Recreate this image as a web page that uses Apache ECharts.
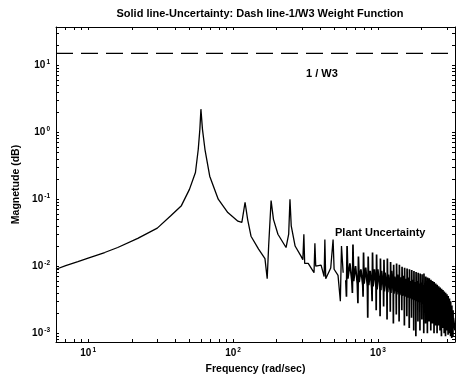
<!DOCTYPE html>
<html>
<head>
<meta charset="utf-8">
<script src="https://cdn.jsdelivr.net/npm/echarts@6/dist/echarts.min.js"></script>
<style>
  html, body { margin: 0; padding: 0; background: #fff; }
  #chart { width: 459px; height: 380px; }
</style>
</head>
<body>
<div id="chart"></div>
<script>
// axis limits (rad/sec and magnitude), log scale
const freqRange = [6, 3400];
const magRange = [0.00074, 37];
const xDecades = [1, 2, 3];
const yDecades = [-3, -2, -1, 0, 1];

// 1/W3 weight (dashed)
const w3Freq = [6, 3400];
const w3Mag = [15, 15];

// plant uncertainty: [frequency, magnitude]
// main resonance region
const lowBand = [
  [6, 0.009], [7, 0.0102], [8.5, 0.0117], [10, 0.0132], [13, 0.016], [16, 0.019],
  [22, 0.026], [30, 0.037], [37, 0.056], [44, 0.08], [50, 0.14], [55, 0.25],
  [57.5, 0.55], [59, 1.1], [60, 2.2], [61.5, 1.1], [64, 0.55], [69, 0.22],
  [79, 0.1], [92, 0.063], [108, 0.047], [115, 0.045], [121, 0.09], [126, 0.05],
  [133, 0.028], [150, 0.018], [166, 0.013], [172, 0.0065], [176, 0.02], [183, 0.095],
  [190, 0.05], [204, 0.03], [232, 0.019], [242, 0.03], [247, 0.1], [252, 0.04],
  [268, 0.02], [295, 0.014], [303, 0.0125], [308, 0.03], [312, 0.011], [330, 0.011],
  [362, 0.008], [367, 0.022], [372, 0.01], [405, 0.0104], [425, 0.007], [430, 0.025],
  [436, 0.0065], [472, 0.0094], [490, 0.025], [498, 0.009], [530, 0.0073], [550, 0.003],
  [560, 0.02], [575, 0.008]
];
// harmonic peaks, 600 - 960 rad/sec
const midBand = [
  [600, 0.0062], [606, 0.0035], [612, 0.02], [620, 0.0065], [640, 0.011],
  [660, 0.006], [666, 0.004], [672, 0.021], [680, 0.006], [700, 0.01],
  [720, 0.0055], [727, 0.0028], [733, 0.014], [742, 0.0058], [762, 0.009],
  [785, 0.0052], [789, 0.0035], [795, 0.016], [803, 0.0055], [823, 0.0095],
  [845, 0.005], [850, 0.0017], [856, 0.014], [864, 0.0052], [884, 0.0085],
  [905, 0.0048], [911, 0.003], [917, 0.016], [925, 0.005], [945, 0.009]
];
// harmonic peaks, 960 - 3400 rad/sec
const highBand = [
  [969, 0.0048], [972, 0.0022], [978, 0.015], [986, 0.0045], [998, 0.009],
  [1031, 0.0046], [1034, 0.0018], [1040, 0.013], [1048, 0.0044], [1060, 0.0085],
  [1091, 0.0044], [1094, 0.0025], [1100, 0.0125], [1108, 0.0042], [1120, 0.008],
  [1152, 0.0043], [1155, 0.0016], [1161, 0.013], [1169, 0.0041], [1181, 0.0075],
  [1213, 0.0042], [1216, 0.0021], [1222, 0.0115], [1230, 0.004], [1242, 0.0085],
  [1274, 0.004], [1277, 0.0014], [1283, 0.0105], [1291, 0.0039], [1303, 0.007],
  [1335, 0.0039], [1338, 0.0019], [1344, 0.011], [1352, 0.0038], [1364, 0.0075],
  [1396, 0.0038], [1399, 0.0015], [1405, 0.0105], [1413, 0.0037], [1425, 0.0068],
  [1457, 0.0037], [1460, 0.0022], [1466, 0.0098], [1474, 0.0036], [1486, 0.0072],
  [1518, 0.0036], [1521, 0.0013], [1527, 0.0095], [1535, 0.0035], [1547, 0.0065],
  [1579, 0.0035], [1582, 0.0018], [1588, 0.0092], [1596, 0.0034], [1608, 0.0068],
  [1640, 0.0034], [1643, 0.0012], [1649, 0.009], [1657, 0.0033], [1669, 0.006],
  [1701, 0.0033], [1704, 0.0017], [1710, 0.0088], [1718, 0.0032], [1730, 0.0063],
  [1762, 0.0032], [1765, 0.0011], [1771, 0.0085], [1779, 0.0031], [1791, 0.0058],
  [1823, 0.0031], [1826, 0.0009], [1832, 0.0082], [1840, 0.003], [1852, 0.006],
  [1884, 0.003], [1887, 0.0015], [1893, 0.008], [1901, 0.0029], [1913, 0.0055],
  [1945, 0.003], [1948, 0.0011], [1954, 0.0078], [1962, 0.0029], [1974, 0.0057],
  [2006, 0.0029], [2009, 0.0016], [2015, 0.0076], [2023, 0.0028], [2035, 0.0052],
  [2067, 0.0028], [2070, 0.001], [2076, 0.0078], [2084, 0.0027], [2096, 0.0054],
  [2128, 0.0028], [2131, 0.0014], [2137, 0.007], [2145, 0.0027], [2157, 0.005],
  [2189, 0.0027], [2192, 0.001], [2198, 0.0068], [2206, 0.0026], [2218, 0.0048],
  [2250, 0.0026], [2253, 0.0015], [2259, 0.0066], [2267, 0.0025], [2279, 0.0046],
  [2311, 0.0026], [2314, 0.0011], [2320, 0.0063], [2328, 0.0025], [2340, 0.0044],
  [2372, 0.0025], [2375, 0.0014], [2381, 0.006], [2389, 0.0024], [2401, 0.0043],
  [2433, 0.0024], [2436, 0.001], [2442, 0.0058], [2450, 0.0023], [2462, 0.0041],
  [2494, 0.0023], [2497, 0.0013], [2503, 0.0055], [2511, 0.0022], [2523, 0.004],
  [2555, 0.0023], [2558, 0.001], [2564, 0.0053], [2572, 0.0022], [2584, 0.0038],
  [2616, 0.0022], [2619, 0.0013], [2625, 0.005], [2633, 0.0021], [2645, 0.0036],
  [2677, 0.0021], [2680, 0.0011], [2686, 0.0048], [2694, 0.002], [2706, 0.0035],
  [2738, 0.0021], [2741, 0.0009], [2747, 0.0046], [2755, 0.002], [2767, 0.0033],
  [2799, 0.002], [2802, 0.0012], [2808, 0.0044], [2816, 0.0019], [2828, 0.0032],
  [2860, 0.0019], [2863, 0.001], [2869, 0.0042], [2877, 0.0018], [2889, 0.003],
  [2921, 0.0018], [2924, 0.0009], [2930, 0.004], [2938, 0.0017], [2950, 0.0029],
  [2982, 0.0018], [2985, 0.0011], [2991, 0.0038], [2999, 0.0017], [3011, 0.0027],
  [3043, 0.0017], [3046, 0.00095], [3052, 0.0036], [3060, 0.0016], [3072, 0.0025],
  [3104, 0.0016], [3107, 0.001], [3113, 0.0033], [3121, 0.0015], [3133, 0.0023],
  [3165, 0.0015], [3168, 0.0009], [3174, 0.003], [3182, 0.0014], [3194, 0.0021],
  [3226, 0.0014], [3229, 0.00085], [3235, 0.0026], [3243, 0.0013], [3255, 0.0019],
  [3287, 0.0013], [3290, 0.0009], [3296, 0.0022], [3304, 0.0012], [3316, 0.0017],
  [3400, 0.0011]
];

const lg = Math.log10;
const toLog = p => [lg(p[0]), lg(p[1])];

// minor ticks at 2..9 x each decade
function logTicks(lo, hi) {
  const out = [];
  for (let d = Math.floor(lo) - 1; d <= Math.ceil(hi); d++) {
    for (let k = 1; k <= 9; k++) {
      const v = d + lg(k);
      if (v >= lo - 1e-9 && v <= hi + 1e-9) out.push(v);
    }
  }
  return out;
}

const xMin = lg(freqRange[0]), xMax = lg(freqRange[1]);
const yMin = lg(magRange[0]), yMax = lg(magRange[1]);
const xTicks = logTicks(xMin, xMax);
const yTicks = logTicks(yMin, yMax);

const font = 'Liberation Sans, Arial, sans-serif';
const textStyle = { fontSize: 10.5, fontWeight: 'bold', fontFamily: font, color: '#000' };
const powLabel = v => '{b|10}{s|' + Math.round(v) + '}';
const labelRich = {
  b: { fontSize: 10, fontWeight: 'bold', fontFamily: font, color: '#000' },
  s: { fontSize: 6.5, fontWeight: 'bold', fontFamily: font, color: '#000', verticalAlign: 'top', padding: [0, 0, 6, 1] }
};
const line = { show: true, onZero: false, lineStyle: { color: '#000', width: 1 } };
const tick = vals => ({ show: true, inside: true, length: 3, customValues: vals, lineStyle: { color: '#000', width: 1 } });

const chart = echarts.init(document.getElementById('chart'), null, { renderer: 'canvas' });
chart.setOption({
  animation: false,
  backgroundColor: '#fff',
  title: {
    text: 'Solid line-Uncertainty: Dash line-1/W3 Weight Function',
    left: 255, top: 3, textAlign: 'center',
    textStyle: { fontSize: 11, fontWeight: 'bold', fontFamily: font, color: '#000' }
  },
  grid: { left: 56, right: 4, top: 27, bottom: 38 },
  xAxis: [{
    type: 'value', min: xMin, max: xMax, position: 'bottom',
    name: 'Frequency (rad/sec)', nameLocation: 'middle', nameGap: 22,
    nameTextStyle: textStyle,
    axisLine: line, splitLine: { show: false },
    axisTick: tick(xTicks),
    axisLabel: { customValues: xDecades, margin: 5, formatter: powLabel, rich: labelRich }
  }, {
    type: 'value', min: xMin, max: xMax, position: 'top',
    axisLine: line, splitLine: { show: false },
    axisTick: tick(xTicks), axisLabel: { show: false }
  }],
  yAxis: [{
    type: 'value', min: yMin, max: yMax, position: 'left',
    name: 'Magnetude (dB)', nameLocation: 'middle', nameGap: 29, nameRotate: 90,
    nameTextStyle: textStyle,
    axisLine: line, splitLine: { show: false },
    axisTick: tick(yTicks),
    axisLabel: { customValues: yDecades, margin: 6, formatter: powLabel, rich: labelRich }
  }, {
    type: 'value', min: yMin, max: yMax, position: 'right',
    axisLine: line, splitLine: { show: false },
    axisTick: tick(yTicks), axisLabel: { show: false }
  }],
  series: [{
    name: '1/W3', type: 'line', showSymbol: false,
    data: w3Freq.map((f, i) => toLog([f, w3Mag[i]])),
    lineStyle: { color: '#000', width: 1.2, type: [17, 8] }
  }, {
    name: 'Plant Uncertainty', type: 'line', showSymbol: false,
    data: lowBand.concat(midBand[0]).map(toLog),
    lineStyle: { color: '#000', width: 1.3 }
  }, {
    name: 'Plant Uncertainty (dense)', type: 'line', showSymbol: false,
    data: midBand.concat(highBand).map(toLog),
    lineStyle: { color: '#000', width: 1.7 }
  }],
  graphic: [
    { type: 'text', left: 306, top: 68, style: { text: '1 / W3', fontSize: 11, fontWeight: 'bold', fontFamily: font, fill: '#000' } },
    { type: 'text', left: 335, top: 227, style: { text: 'Plant Uncertainty', fontSize: 11, fontWeight: 'bold', fontFamily: font, fill: '#000' } }
  ]
});
</script>
</body>
</html>
